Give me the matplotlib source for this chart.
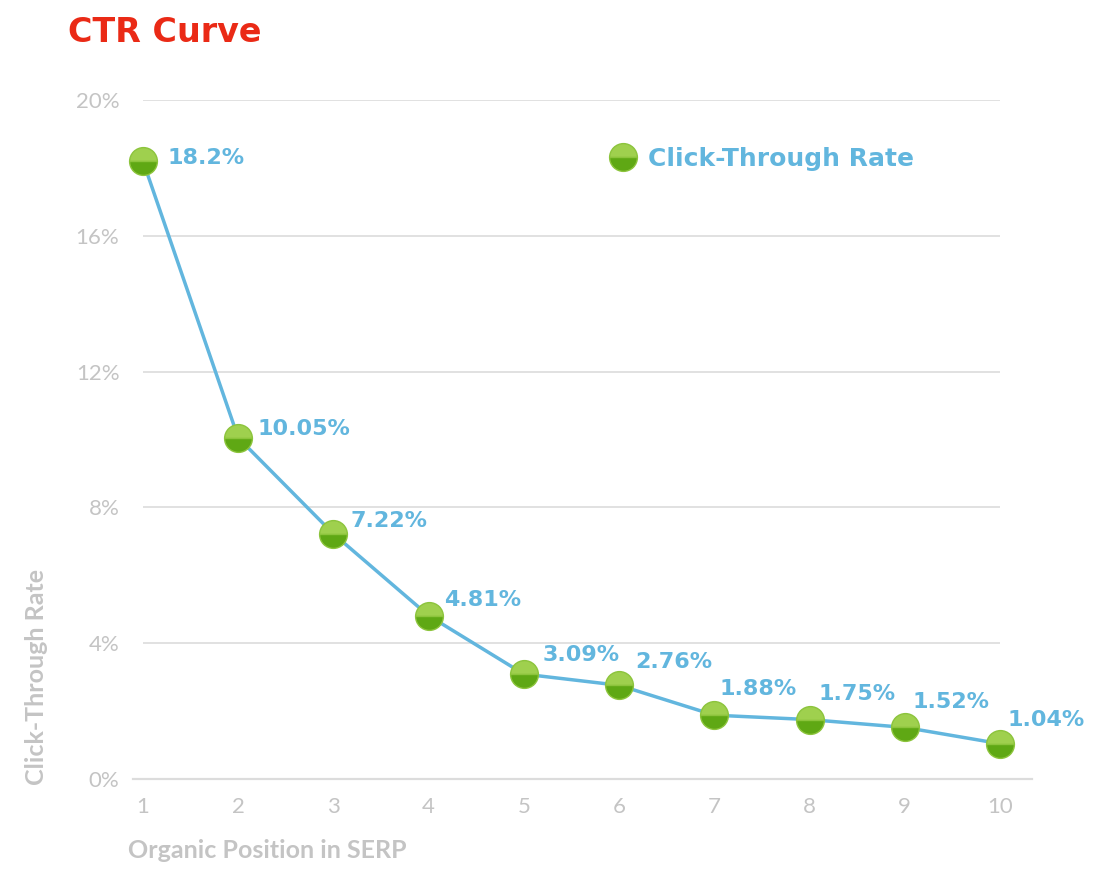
import matplotlib
matplotlib.use("Agg")
import matplotlib.pyplot as plt
from matplotlib.lines import Line2D

# Data
positions = [1, 2, 3, 4, 5, 6, 7, 8, 9, 10]
ctr = [18.2, 10.05, 7.22, 4.81, 3.09, 2.76, 1.88, 1.75, 1.52, 1.04]
ctr_labels = ["18.2%", "10.05%", "7.22%", "4.81%", "3.09%", "2.76%",
              "1.88%", "1.75%", "1.52%", "1.04%"]
y_ticks = [0, 4, 8, 12, 16, 20]
y_tick_labels = ["0%", "4%", "8%", "12%", "16%", "20%"]

# label offsets in pixels (dx, dy)
label_offsets = [(24, 3), (19, 9), (17, 13), (15, 16), (19, 19),
                 (16, 23), (5, 26), (9, 26), (8, 25), (8, 24)]

blue = "#62b6de"
gray = "#c4c4c4"
red = "#ea2a16"
green_top = "#9fd04e"
green_bot = "#5fa814"

W, H = 1104, 874
fig = plt.figure(figsize=(W / 100, H / 100), dpi=100)
ax = fig.add_axes([143 / W, 95 / H, 857 / W, 679 / H])

# curve with two-tone markers
ax.plot(positions, ctr, color=blue, lw=2.5, zorder=3, clip_on=False,
        marker="o", markersize=20, fillstyle="top",
        markerfacecolor=green_top, markerfacecoloralt=green_bot,
        markeredgecolor="#8cc43c", markeredgewidth=1.0)

for x, y, lab, (dx, dy) in zip(positions, ctr, ctr_labels, label_offsets):
    ax.annotate(lab, (x, y), xytext=(dx, dy), textcoords="offset pixels",
                ha="left", va="center", color=blue, fontsize=16,
                fontweight="bold", family="DejaVu Sans")

ax.set_xlim(1, 10)
ax.set_ylim(0, 20)
ax.set_xticks(positions)
ax.set_yticks(y_ticks)
ax.set_yticklabels(y_tick_labels)
ax.tick_params(length=0, colors=gray, labelsize=16)
ax.tick_params(axis="y", pad=17)
ax.tick_params(axis="x", pad=13)
for lab in ax.get_xticklabels() + ax.get_yticklabels():
    lab.set_family("Lato")

ax.grid(axis="y", color="#dcdcdc", lw=1.2)
ax.set_axisbelow(True)
for s in ax.spines.values():
    s.set_visible(False)
# baseline, a bit longer than the grid
ax.add_line(Line2D([-0.012, 1.037], [0, 0], transform=ax.get_yaxis_transform(),
                   color="#dcdcdc", lw=1.6, clip_on=False, zorder=1))

# legend
handle = Line2D([], [], linestyle="none", marker="o", markersize=20,
                fillstyle="top", markerfacecolor=green_top,
                markerfacecoloralt=green_bot, markeredgecolor="#8cc43c")
leg = ax.legend([handle], ["Click-Through Rate"], loc="center left",
                bbox_to_anchor=(585 / W, 1 - 159 / H),
                bbox_transform=fig.transFigure, frameon=False,
                handletextpad=0.4, handlelength=1.2,
                prop={"family": "DejaVu Sans", "weight": "bold", "size": 18})
for t in leg.get_texts():
    t.set_color(blue)

# titles
fig.text(68 / W, 1 - 32 / H, "CTR Curve", color=red, fontsize=24,
         fontweight="bold", family="DejaVu Sans", ha="left", va="center")
fig.text(128 / W, 1 - 850 / H, "Organic Position in SERP", color=gray,
         fontsize=18, fontweight="bold", family="Lato", ha="left", va="center")
fig.text(37 / W, 1 - 677 / H, "Click-Through Rate", color=gray,
         fontsize=18, fontweight="bold", family="Lato", rotation=90,
         ha="center", va="center")

fig.savefig("out.png", dpi=100)
